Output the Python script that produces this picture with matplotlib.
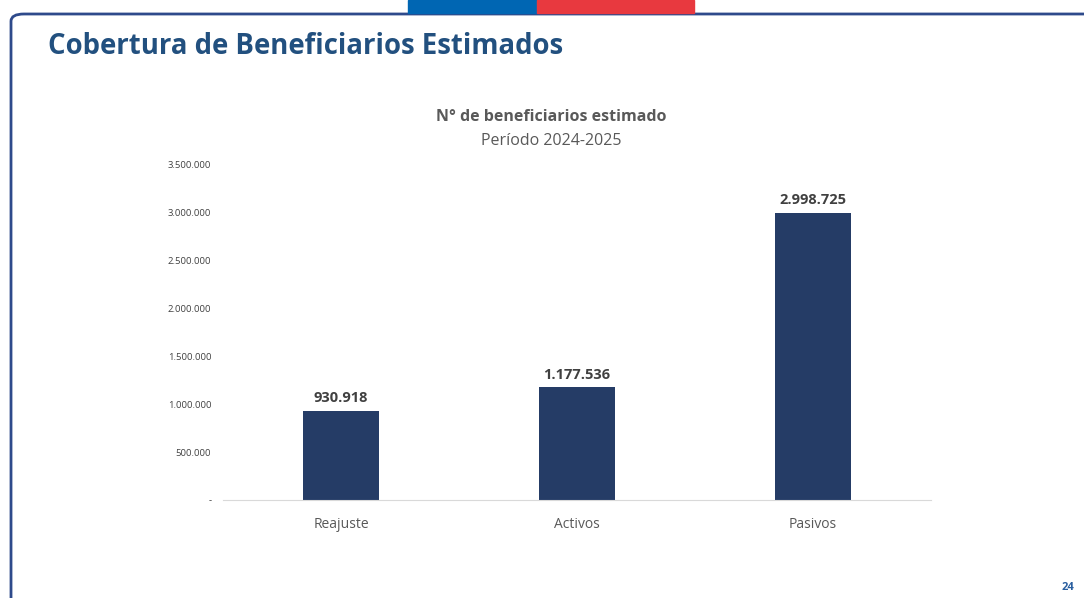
import matplotlib
matplotlib.use("Agg")
import matplotlib.pyplot as plt
from matplotlib.patches import FancyBboxPatch, Rectangle

categories = ["Reajuste", "Activos", "Pasivos"]
values = [930918, 1177536, 2998725]
yticks = [0, 500000, 1000000, 1500000, 2000000, 2500000, 3000000, 3500000]
ytick_labels = ["-", "500.000", "1.000.000", "1.500.000", "2.000.000", "2.500.000", "3.000.000", "3.500.000"]

W, H = 1084, 598
fig = plt.figure(figsize=(W / 100, H / 100), dpi=100)
fig.patch.set_facecolor("white")

def fx(px):
    return px / W

def fy(py):
    return 1 - py / H

# slide frame
frame = FancyBboxPatch((fx(11), fy(640)), fx(1120) - fx(11), fy(14) - fy(640),
                       boxstyle="round,pad=0,rounding_size=0.012",
                       transform=fig.transFigure, fill=False,
                       edgecolor="#2E4A8B", linewidth=2.0, clip_on=False)
fig.patches.append(frame)
# flag stripes
fig.patches.append(Rectangle((fx(408), fy(13)), fx(537) - fx(408), fy(0) - fy(13),
                             transform=fig.transFigure, color="#0066B3", zorder=5))
fig.patches.append(Rectangle((fx(537), fy(13)), fx(694) - fx(537), fy(0) - fy(13),
                             transform=fig.transFigure, color="#E8393F", zorder=5))

fig.text(fx(48), fy(47), "Cobertura de Beneficiarios Estimados", fontsize=19.8,
         fontweight="bold", color="#22507F", family="Open Sans", va="center", ha="left")
fig.text(fx(551), fy(117), "N° de beneficiarios estimado", fontsize=11.5,
         fontweight="bold", color="#595959", family="Open Sans", va="center", ha="center")
fig.text(fx(551), fy(141), "Período 2024-2025", fontsize=11.5,
         color="#595959", family="Open Sans", va="center", ha="center")
fig.text(fx(1068), fy(588), "24", fontsize=8, fontweight="bold", color="#2A5FA0",
         family="Open Sans", va="center", ha="center")

ax = fig.add_axes([fx(223), fy(500), fx(931) - fx(223), fy(165) - fy(500)])
x = range(len(categories))
bars = ax.bar(x, values, width=0.32, color="#253C66")
ax.set_xlim(-0.5, len(categories) - 0.5)
ax.set_ylim(0, 3500000)
ax.set_yticks(yticks)
ax.set_yticklabels(ytick_labels, fontsize=6.8, color="#404040", family="Open Sans")
ax.set_xticks(list(x))
ax.set_xticklabels(categories, fontsize=10, color="#595959", family="Open Sans")
ax.tick_params(axis="both", length=0)
ax.tick_params(axis="y", pad=8.5)
ax.tick_params(axis="x", pad=12)
for s in ["top", "right", "left"]:
    ax.spines[s].set_visible(False)
ax.spines["bottom"].set_color("#D9D9D9")
ax.set_facecolor("none")
for i, v in enumerate(values):
    ax.annotate(f"{v:,}".replace(",", "."), (i, v), xytext=(0, 4), textcoords="offset points",
                ha="center", va="bottom", fontsize=10.5, fontweight="bold",
                color="#404040", family="Open Sans")

fig.savefig("out.png", dpi=100)
